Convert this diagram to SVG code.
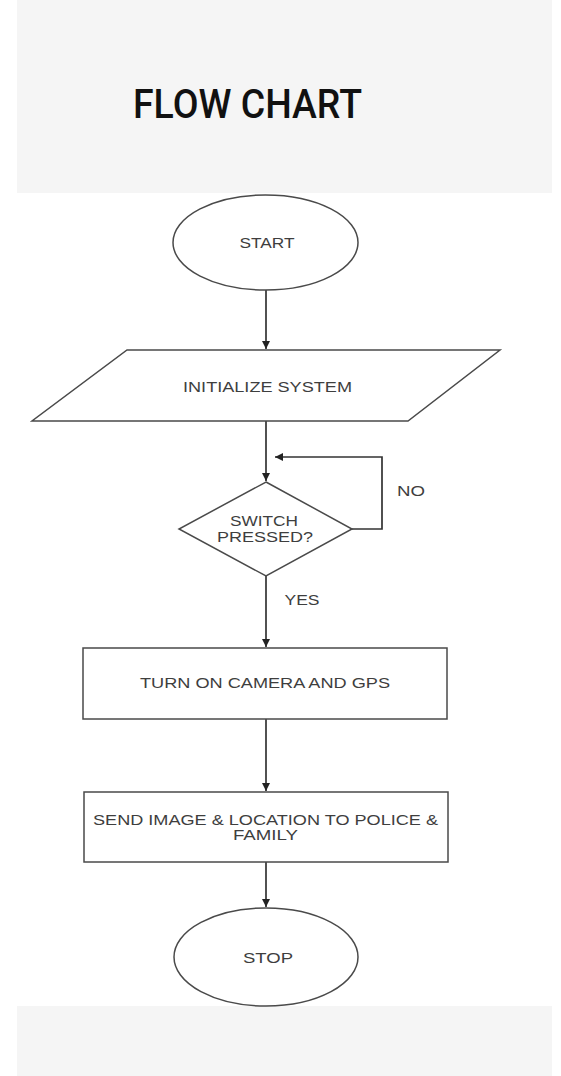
<svg xmlns="http://www.w3.org/2000/svg" width="561" height="1076" viewBox="0 0 561 1076">
<defs>
<style>
.shape{fill:#ffffff;stroke:#4a4a4a;stroke-width:1.5}
.conn{fill:none;stroke:#333333;stroke-width:1.7}
.lbl{font-family:"Liberation Sans",Arial,sans-serif;font-size:14px;fill:#3e3e3e;text-anchor:middle}
.title{font-family:Roboto,"Liberation Sans",sans-serif;font-size:41px;font-weight:500;fill:#111111}
</style>
<marker id="arr" markerWidth="10" markerHeight="10" refX="8" refY="4" orient="auto" markerUnits="userSpaceOnUse">
<path d="M0,0 L8,4 L0,8 Z" fill="#222222"/>
</marker>
</defs>
<rect x="0" y="0" width="561" height="1076" fill="#ffffff"/>
<rect x="17" y="0" width="535" height="193" fill="#f5f5f5"/>
<rect x="17" y="1006" width="535" height="70" fill="#f5f5f5"/>
<text class="title" x="133" y="118" textLength="229" lengthAdjust="spacingAndGlyphs">FLOW CHART</text>

<g id="connectors">
<line class="conn" x1="266" y1="290" x2="266" y2="349" marker-end="url(#arr)"/>
<line class="conn" x1="266" y1="421" x2="266" y2="481" marker-end="url(#arr)"/>
<polyline class="conn" points="352,529 382,529 382,457 275,457" marker-end="url(#arr)"/>
<line class="conn" x1="266" y1="576" x2="266" y2="647" marker-end="url(#arr)"/>
<line class="conn" x1="266" y1="719" x2="266" y2="791" marker-end="url(#arr)"/>
<line class="conn" x1="266" y1="862" x2="266" y2="907" marker-end="url(#arr)"/>
<text class="lbl" x="411" y="496" textLength="28" lengthAdjust="spacingAndGlyphs">NO</text>
<text class="lbl" x="302" y="605" textLength="35" lengthAdjust="spacingAndGlyphs">YES</text>
</g>

<g id="start">
<ellipse class="shape" cx="265.5" cy="242.5" rx="92.5" ry="47.5"/>
<text class="lbl" x="267" y="248" textLength="55" lengthAdjust="spacingAndGlyphs">START</text>
</g>

<g id="init">
<polygon class="shape" points="127,350 500,350 408,421 32,421"/>
<text class="lbl" x="267.5" y="392" textLength="169" lengthAdjust="spacingAndGlyphs">INITIALIZE SYSTEM</text>
</g>

<g id="decision">
<polygon class="shape" points="266,482 352,529 266,576 179,529"/>
<text class="lbl" x="264" y="526" textLength="68" lengthAdjust="spacingAndGlyphs">SWITCH</text>
<text class="lbl" x="265" y="542" textLength="96" lengthAdjust="spacingAndGlyphs">PRESSED?</text>
</g>

<g id="camera">
<rect class="shape" x="83" y="648" width="364" height="71"/>
<text class="lbl" x="265" y="688" textLength="250" lengthAdjust="spacingAndGlyphs">TURN ON CAMERA AND GPS</text>
</g>

<g id="send">
<rect class="shape" x="84" y="792" width="364" height="70"/>
<text class="lbl" x="265.5" y="825" textLength="345" lengthAdjust="spacingAndGlyphs">SEND IMAGE &amp; LOCATION TO POLICE &amp;</text>
<text class="lbl" x="265.5" y="840" textLength="65" lengthAdjust="spacingAndGlyphs">FAMILY</text>
</g>

<g id="stop">
<ellipse class="shape" cx="266" cy="957" rx="92" ry="49"/>
<text class="lbl" x="268" y="963" textLength="50" lengthAdjust="spacingAndGlyphs">STOP</text>
</g>
</svg>
